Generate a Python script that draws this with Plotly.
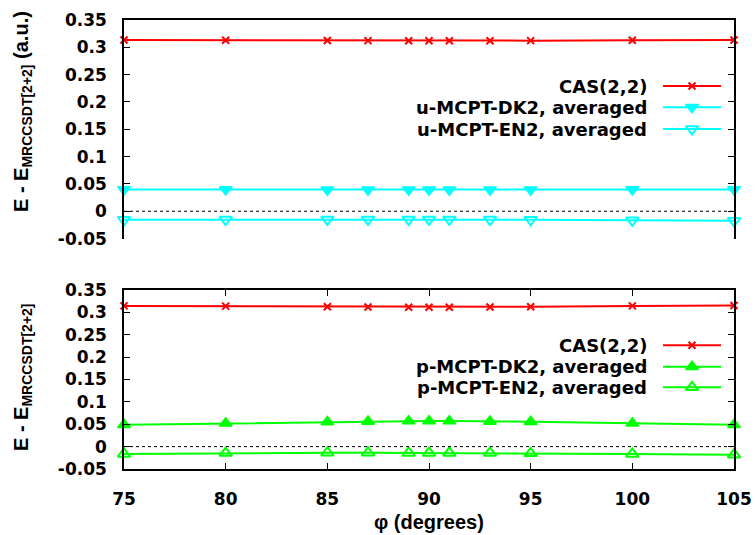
import plotly.graph_objects as go

# ---------------- data ----------------
phi = [75, 80, 85, 87, 89, 90, 91, 93, 95, 100, 105]

cas_top = [0.3135, 0.313, 0.3125, 0.3122, 0.312, 0.312, 0.312, 0.312, 0.3122, 0.3128, 0.3135]
u_dk2 = [0.0398, 0.0397, 0.0395, 0.0395, 0.0394, 0.0394, 0.0394, 0.0395, 0.0395, 0.0397, 0.0400]
u_en2 = [-0.0155, -0.0152, -0.0150, -0.0150, -0.0150, -0.0150, -0.0150, -0.0152, -0.0155, -0.0165, -0.0175]

cas_bot = [0.3145, 0.314, 0.3125, 0.312, 0.3115, 0.3115, 0.3115, 0.312, 0.3125, 0.3145, 0.3155]
p_dk2 = [0.049, 0.052, 0.0553, 0.0563, 0.057, 0.057, 0.057, 0.0563, 0.0555, 0.052, 0.049]
p_en2 = [-0.0164, -0.0145, -0.0137, -0.0137, -0.014, -0.014, -0.014, -0.0142, -0.015, -0.0164, -0.018]

x_ticks = [75, 80, 85, 90, 95, 100, 105]
y_ticks = [-0.05, 0, 0.05, 0.1, 0.15, 0.2, 0.25, 0.3, 0.35]
y_ticktext = ["-0.05", "0", "0.05", "0.1", "0.15", "0.2", "0.25", "0.3", "0.35"]

top_names = ["CAS(2,2)", "u-MCPT-DK2, averaged", "u-MCPT-EN2, averaged"]
bot_names = ["CAS(2,2)", "p-MCPT-DK2, averaged", "p-MCPT-EN2, averaged"]

RED = "#ff0000"
CYAN = "#00ffff"
GREEN = "#00ff00"

TICKFONT = dict(family="DejaVu Sans", size=17, color="black", weight="bold")
LEGFONT = dict(family="DejaVu Sans", size=18, color="black", weight="bold")
TITLEFONT = dict(family="Liberation Sans", size=20, color="black", weight="bold")

# ---------------- layout geometry (pixels) ----------------
W, H = 755, 535
ML, MR, MT, MB = 124, 21, 20, 66
PW = W - ML - MR
PH = H - MT - MB


def py(pix):  # pixel row -> paper y
    return (H - MB - pix) / PH


def px(pix):  # pixel col -> paper x
    return (pix - ML) / PW


top_dom = [py(238.6), 1.0]
bot_dom = [0.0, py(290)]

fig = go.Figure()

styles_top = [
    dict(color=RED, symbol="x-thin", size=7, lw=2),
    dict(color=CYAN, symbol="triangle-down", size=11, lw=1.5),
    dict(color=CYAN, symbol="triangle-down-open", size=11, lw=2),
]
styles_bot = [
    dict(color=RED, symbol="x-thin", size=7, lw=2),
    dict(color=GREEN, symbol="triangle-up", size=11, lw=1.5),
    dict(color=GREEN, symbol="triangle-up-open", size=11, lw=2),
]


def add_series(y, st, xa, ya, name):
    fig.add_trace(go.Scatter(
        x=phi, y=y, mode="lines+markers", name=name, xaxis=xa, yaxis=ya,
        line=dict(color=st["color"], width=2),
        marker=dict(symbol=st["symbol"], size=st["size"], color=st["color"],
                    line=dict(color=st["color"], width=st["lw"])),
        cliponaxis=False, showlegend=False,
    ))


for y, st, nm in zip([cas_top, u_dk2, u_en2], styles_top, top_names):
    add_series(y, st, "x", "y", nm)
for y, st, nm in zip([cas_bot, p_dk2, p_en2], styles_bot, bot_names):
    add_series(y, st, "x2", "y2", nm)

# ---------------- custom legends (text left of key) ----------------
leg_rows_top = [86, 107.3, 129]
leg_rows_bot = [345.3, 366.7, 387.3]
key_x0, key_x1, key_xm = 663, 721, 692
text_right = 649

annotations = []
for rows, styles, names in [(leg_rows_top, styles_top, top_names),
                            (leg_rows_bot, styles_bot, bot_names)]:
    for r, st, nm in zip(rows, styles, names):
        fig.add_trace(go.Scatter(
            x=[key_x0, key_x1], y=[r, r], mode="lines", xaxis="x3", yaxis="y3",
            line=dict(color=st["color"], width=2), showlegend=False, hoverinfo="skip"))
        fig.add_trace(go.Scatter(
            x=[key_xm], y=[r], mode="markers", xaxis="x3", yaxis="y3",
            marker=dict(symbol=st["symbol"], size=st["size"], color=st["color"],
                        line=dict(color=st["color"], width=st["lw"])),
            showlegend=False, hoverinfo="skip"))
        annotations.append(dict(
            text=nm, x=px(text_right), y=py(r), xref="paper", yref="paper",
            xanchor="right", yanchor="middle", showarrow=False, font=LEGFONT))

# axis titles
annotations.append(dict(
    text="E - E<sub>MRCCSDT[2+2]</sub> (a.u.)", textangle=-90,
    x=px(22), y=py(112), xref="paper", yref="paper",
    xanchor="center", yanchor="middle", showarrow=False, font=TITLEFONT))
annotations.append(dict(
    text="E - E<sub>MRCCSDT[2+2]</sub>", textangle=-90,
    x=px(22), y=py(377), xref="paper", yref="paper",
    xanchor="center", yanchor="middle", showarrow=False, font=TITLEFONT))
annotations.append(dict(
    text="φ (degrees)", x=0.5, y=py(522), xref="paper", yref="paper",
    xanchor="center", yanchor="middle", showarrow=False, font=TITLEFONT))

# zero dotted lines
shapes = []
for ya in ["y", "y2"]:
    shapes.append(dict(type="line", xref="x domain" if ya == "y" else "x2 domain",
                       yref=ya, x0=0, x1=1, y0=0, y1=0,
                       line=dict(color="black", width=1, dash="dot")))

yaxis_common = dict(
    range=[-0.05, 0.35], tickvals=y_ticks, ticktext=y_ticktext,
    ticks="inside", ticklen=6, tickwidth=1, tickcolor="black",
    mirror="ticks", showline=True, linecolor="black", linewidth=1.5,
    showgrid=False, zeroline=False, tickfont=TICKFONT, ticklabelstandoff=12,
    automargin=False,
)

fig.update_layout(
    template="none",
    width=W, height=H,
    margin=dict(l=ML, r=MR, t=MT, b=MB, autoexpand=False),
    paper_bgcolor="white", plot_bgcolor="rgba(0,0,0,0)",
    xaxis=dict(domain=[0, 1], range=[75, 105], anchor="y", side="top",
               showticklabels=False, ticks="", showline=True, linecolor="black",
               linewidth=1.5, showgrid=False, zeroline=False, automargin=False),
    yaxis=dict(domain=top_dom, anchor="x", **yaxis_common),
    xaxis2=dict(domain=[0, 1], range=[75, 105], anchor="y2", tickvals=x_ticks,
                ticks="inside", ticklen=6, tickwidth=1, tickcolor="black",
                mirror="ticks", showline=True, linecolor="black", linewidth=1.5,
                showgrid=False, zeroline=False, tickfont=TICKFONT,
                ticklabelstandoff=14, automargin=False),
    yaxis2=dict(domain=bot_dom, anchor="x2", **yaxis_common),
    xaxis3=dict(domain=[0, 1], range=[ML, W - MR], anchor="y3", visible=False,
                fixedrange=True, automargin=False),
    yaxis3=dict(domain=[0, 1], range=[H - MB, MT], anchor="x3", visible=False,
                fixedrange=True, automargin=False),
    annotations=annotations,
    shapes=shapes,
    showlegend=False,
)

fig.write_html("out.html", config={"displayModeBar": False},
               post_script="document.body.style.margin='0px';document.body.style.overflow='hidden';")
